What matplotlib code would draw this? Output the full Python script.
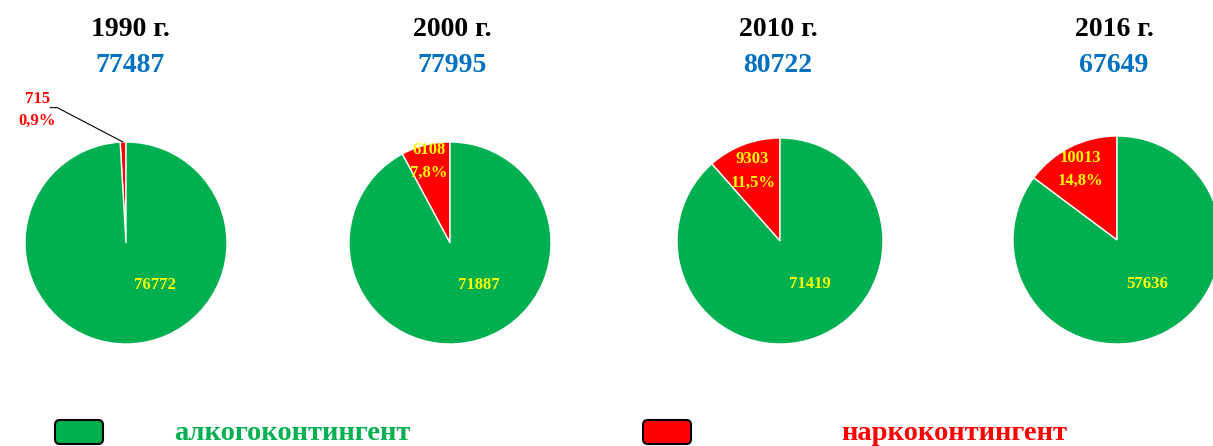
import numpy as np
import matplotlib.pyplot as plt
from matplotlib.patches import FancyBboxPatch

plt.rcParams['font.family'] = ['Liberation Serif', 'DejaVu Serif']
plt.rcParams['font.weight'] = 'bold'

# -------------------------
# Data
# -------------------------
years = ["1990 г.", "2000 г.", "2010 г.", "2016 г."]
alco = [76772, 71887, 71419, 57636]
narco = [715, 6108, 9303, 10013]
totals = [77487, 77995, 80722, 67649]

legend_labels = ["алкогоконтингент", "наркоконтингент"]
green = "#00B050"
red = "#FF0000"
yellow = "#FFFF00"
blue = "#0070C0"

W, H = 1213, 446
fig = plt.figure(figsize=(W / 100, H / 100), dpi=100)

# pie centres / radii in pixels
centres = [(126, 243, 101), (450, 243, 101), (780, 241, 103), (1117, 240, 104)]
title_x = [130, 452, 778, 1114]
label_r = [0, 0.85, 0.75, 0.78]

for i in range(4):
    cx, cy, r = centres[i]
    ax = fig.add_axes([(cx - r) / W, (H - cy - r) / H, 2 * r / W, 2 * r / H])
    ax.pie([narco[i], alco[i]], colors=[red, green], startangle=90,
           counterclock=True, radius=1,
           wedgeprops=dict(edgecolor="white", linewidth=1))
    ax.set_xlim(-1, 1)
    ax.set_ylim(-1, 1)
    ax.axis("off")

    pct = narco[i] / (narco[i] + alco[i]) * 100
    pct_txt = f"{pct:.1f}%".replace(".", ",")
    mid = np.deg2rad(90 + pct * 3.6 / 2)

    # green slice value
    ax.text(0.29, -0.42, str(alco[i]), color=yellow, fontsize=12,
            ha="center", va="center", fontweight="bold")

    if i == 0:
        # outside label with leader line
        ax.text(-0.88, 1.32, f"{narco[i]}\n{pct_txt}", color=red, fontsize=12,
                ha="center", va="center", linespacing=1.5, clip_on=False)
        ax.plot([-0.75, -0.68, np.cos(mid)], [1.34, 1.34, np.sin(mid)],
                color="black", lw=0.8, clip_on=False)
    else:
        rr = label_r[i]
        ax.text(rr * np.cos(mid), rr * np.sin(mid) - 0.02, f"{narco[i]}\n{pct_txt}",
                color=yellow, fontsize=12, ha="center", va="center",
                linespacing=1.6)

    fig.text(title_x[i] / W, 1 - 30 / H, years[i], fontsize=20,
             ha="center", va="center", color="black")
    fig.text(title_x[i] / W, 1 - 65 / H, f"{totals[i]}", fontsize=20,
             ha="center", va="center", color=blue)

# -------------------------
# Legend
# -------------------------
boxes = [(55, green, 174), (643, red, 841)]
for (bx, col, tx), lab in zip(boxes, legend_labels):
    p = FancyBboxPatch((bx / W, (H - 444) / H), 48 / W, 24 / H,
                       boxstyle="round,pad=0,rounding_size=0.004",
                       transform=fig.transFigure, facecolor=col,
                       edgecolor="black", linewidth=1.5, mutation_aspect=W / H)
    fig.patches.append(p)
    fig.text(tx / W, 1 - 433 / H, lab, fontsize=20.5, color=col,
             ha="left", va="center")

fig.savefig("out.png", dpi=100)
